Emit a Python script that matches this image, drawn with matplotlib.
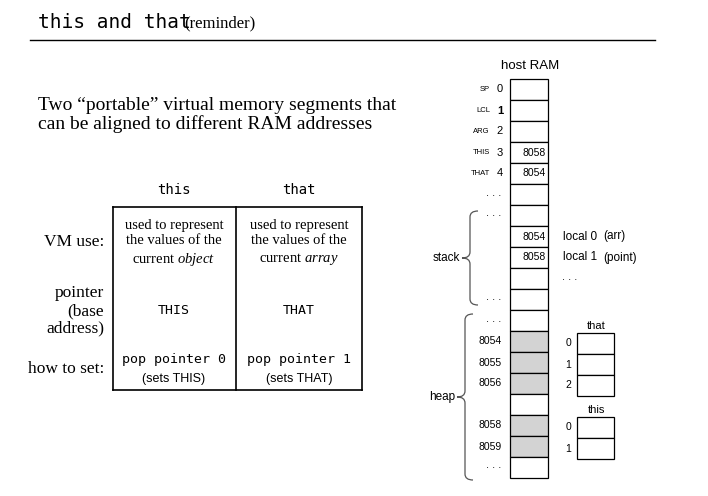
import matplotlib
matplotlib.use("Agg")
from matplotlib import pyplot as plt
from matplotlib.patches import Rectangle, PathPatch
from matplotlib.path import Path

plt.rcParams["mathtext.fontset"] = "custom"
plt.rcParams["mathtext.it"] = "Liberation Serif:italic"
plt.rcParams["mathtext.rm"] = "Liberation Serif"

# RAM rows
ram_names = ["SP", "LCL", "ARG", "THIS", "THAT"] + [""] * 14
ram_addr = ["0", "1", "2", "3", "4", "...", "...", "", "", "", "...",
            "...", "8054", "8055", "8056", "", "8058", "8059", "..."]
ram_shaded = [False] * 12 + [True, True, True, False, True, True, False]
ram_vals = ["", "", "", "8058", "8054", "", "", "8054", "8058", "", "", "",
            "", "", "", "", "", "", ""]
local_labels = {7: ("local 0", "(arr)"), 8: ("local 1", "(point)")}

table_cols = ["this", "that"]
row_labels = ["VM use:", "pointer\n(base\naddress)", "how to set:"]
vm_use = [("used to represent\nthe values of the", "current", "object"),
          ("used to represent\nthe values of the", "current", "array")]
pointers = ["THIS", "THAT"]
how_set = [("pop pointer 0", "(sets THIS)"), ("pop pointer 1", "(sets THAT)")]

fig = plt.figure(figsize=(7.08, 4.96), dpi=100)
ax = fig.add_axes([0, 0, 1, 1])
ax.set_xlim(0, 708)
ax.set_ylim(496, 0)
ax.axis("off")

mono = "DejaVu Sans Mono"
serif = "Liberation Serif"
sans = "Liberation Sans"

# title
ax.text(38, 22, "this and that", family=mono, fontsize=14, va="center")
ax.text(184, 23, "(reminder)", family=serif, fontsize=12, va="center")
ax.plot([30, 655], [40, 40], color="black", lw=1)

ax.text(38, 115, "Two \u201cportable\u201d virtual memory segments that\ncan be aligned to different RAM addresses",
        family=serif, fontsize=14, va="center", linespacing=1.05)

# table
for xv in [113, 236, 362]:
    ax.plot([xv, xv], [207, 390], color="black", lw=1.2)
for yv in [207, 390]:
    ax.plot([113, 362], [yv, yv], color="black", lw=1.2)
cx = [174, 299]
for i, c in enumerate(table_cols):
    ax.text(cx[i], 190, c, family=mono, fontsize=10, ha="center", va="center")
ax.text(104, 242, row_labels[0], family=serif, fontsize=12.5, ha="right", va="center")
ax.text(104, 311, row_labels[1], family=serif, fontsize=12.5, ha="right", va="center",
        linespacing=1.15)
ax.text(104, 369, row_labels[2], family=serif, fontsize=12.5, ha="right", va="center")
for i in range(2):
    ax.text(cx[i], 233, vm_use[i][0], family=serif, fontsize=10.5,
            ha="center", va="center", linespacing=1.1)
    ax.text(cx[i], 259, vm_use[i][1] + " $\\it{" + vm_use[i][2] + "}$",
            family=serif, fontsize=10.5, ha="center", va="center")
    ax.text(cx[i], 310, pointers[i], family=mono, fontsize=9.5, ha="center", va="center")
    ax.text(cx[i], 360, how_set[i][0], family=mono, fontsize=9.5, ha="center", va="center")
    ax.text(cx[i], 379, how_set[i][1], family=sans, fontsize=9, ha="center", va="center")

# host RAM
ax.text(530, 66, "host RAM", family=sans, fontsize=9.5, ha="center", va="center")
top, h, x0, w = 79, 21, 510, 38
for i in range(len(ram_addr)):
    y = top + i * h
    ax.add_patch(Rectangle((x0, y), w, h, facecolor="#d3d3d3" if ram_shaded[i] else "white",
                           edgecolor="black", lw=0.9))
    yc = y + h / 2
    if ram_names[i]:
        ax.text(490, yc, ram_names[i], family=sans, fontsize=5.5, ha="right", va="center")
    a = ram_addr[i]
    if a:
        if a == "...":
            ax.text(494, yc - 2, ". . .", family=sans, fontsize=8, ha="center", va="center")
        elif len(a) == 1:
            ax.text(500, yc, a, family=sans, fontsize=8,
                    fontweight="bold" if a == "1" else "normal", ha="center", va="center")
        else:
            ax.text(502, yc, a, family=sans, fontsize=7.5, ha="right", va="center")
    if ram_vals[i]:
        ax.text(546, yc, ram_vals[i], family=sans, fontsize=7.5, ha="right", va="center")
    if i in local_labels:
        ax.text(563, yc, local_labels[i][0], family=sans, fontsize=8.5, va="center")
        ax.text(603, yc, local_labels[i][1], family=sans, fontsize=8.5, va="center")
ax.text(570, top + 9.5 * h - 2, ". . .", family=sans, fontsize=8, ha="center", va="center")


def brace(xr, y1, y2, depth=8):
    ym = (y1 + y2) / 2
    verts = [(xr, y1), (xr - depth, y1), (xr - depth, y1 + 6), (xr - depth, ym - 6),
             (xr - depth, ym), (xr - 2 * depth, ym),
             (xr - depth, ym), (xr - depth, ym + 6), (xr - depth, y2 - 6),
             (xr - depth, y2), (xr, y2)]
    codes = [Path.MOVETO, Path.CURVE3, Path.CURVE3, Path.LINETO, Path.CURVE3, Path.CURVE3,
             Path.CURVE3, Path.CURVE3, Path.LINETO, Path.CURVE3, Path.CURVE3]
    ax.add_patch(PathPatch(Path(verts, codes), fill=False, edgecolor="#555555", lw=0.9))
    return xr - 2 * depth, ym


bx, by = brace(478, 211, 305)
ax.text(bx - 2, by, "stack", family=sans, fontsize=8.5, ha="right", va="center")
bx, by = brace(473, 314, 480)
ax.text(bx - 2, by, "heap", family=sans, fontsize=8.5, ha="right", va="center")

# small arrays
arrays = [("that", 333, ["0", "1", "2"]), ("this", 417, ["0", "1"])]
for name, y0, idx in arrays:
    ax.text(596, y0 - 7, name, family=sans, fontsize=8, ha="center", va="center")
    for k, lab in enumerate(idx):
        ax.add_patch(Rectangle((577, y0 + k * h), 37, h, facecolor="white",
                               edgecolor="black", lw=0.9))
        ax.text(568, y0 + k * h + h / 2, lab, family=sans, fontsize=7.5, ha="center", va="center")

fig.savefig("out.png", dpi=100)
